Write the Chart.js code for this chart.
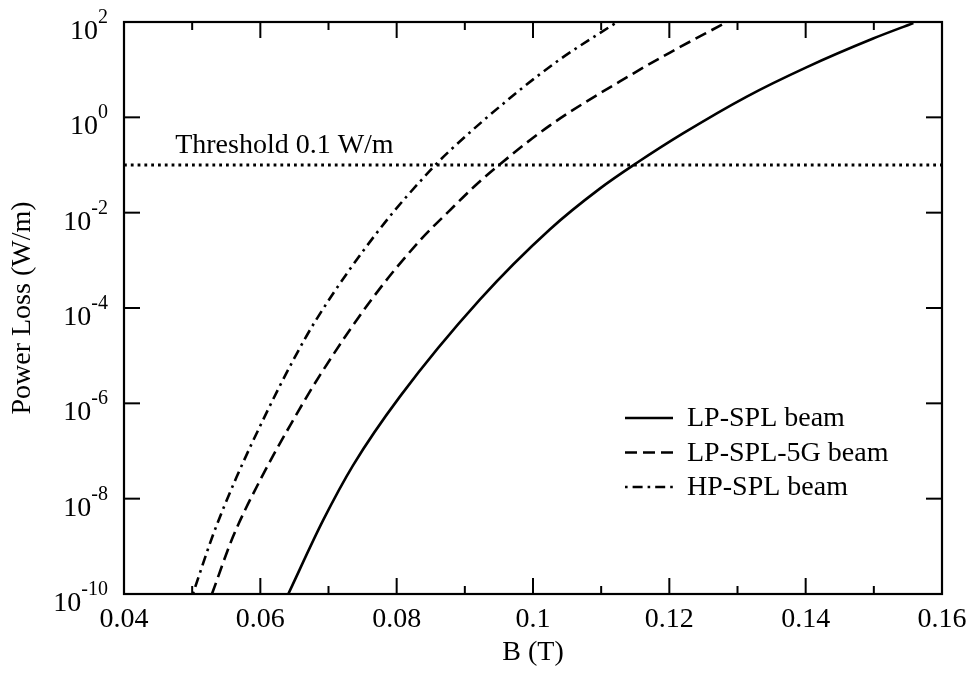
<!DOCTYPE html>
<html>
<head>
<meta charset="utf-8">
<script src="https://cdn.jsdelivr.net/npm/chart.js@4.4.1/dist/chart.umd.min.js"></script>
<style>
  html, body { margin: 0; padding: 0; background: #fff; }
</style>
</head>
<body>
<canvas id="lossChart" width="971" height="675"></canvas>
<script>
// B field (T) and power loss (W/m) for each beam
const bLpSpl = [0.0641, 0.0692, 0.0736, 0.0805, 0.0922, 0.1025, 0.1098, 0.1152, 0.1220, 0.1313, 0.1401, 0.1499, 0.1558];
const lossLpSpl = [1e-10, 3.5e-9, 5.0e-8, 1.4e-6, 1.5e-4, 4.5e-3, 3.2e-2, 0.11, 0.46, 2.7, 11.2, 45, 95];

const bLp5g = [0.0529, 0.0560, 0.0600, 0.0644, 0.0688, 0.0763, 0.0834, 0.0878, 0.0917, 0.0952, 0.1025, 0.1147, 0.1201, 0.1279];
const lossLp5g = [1e-10, 1.6e-9, 2.5e-8, 3.5e-7, 4.0e-6, 1.5e-4, 2.6e-3, 1.12e-2, 3.9e-2, 0.105, 0.68, 8.3, 22.9, 91];

const bHpSpl = [0.0501, 0.0531, 0.0565, 0.0609, 0.0648, 0.0683, 0.0776, 0.0854, 0.0878, 0.0976, 0.1040, 0.1120];
const lossHpSpl = [1e-10, 1.8e-9, 2.8e-8, 6.3e-7, 7.9e-6, 6.0e-5, 4.7e-3, 9.1e-2, 0.20, 3.3, 16.6, 93];

const seriesLabels = ['LP-SPL beam', 'LP-SPL-5G beam', 'HP-SPL beam'];

// threshold line
const thresholdLoss = 0.1;
const thresholdRange = [0.04, 0.16];
const thresholdText = 'Threshold 0.1 W/m';
const thresholdTextB = 0.0475;

// axis ticks
const xMajorTicks = [0.04, 0.06, 0.08, 0.10, 0.12, 0.14, 0.16];
const xMinorTicks = [0.05, 0.07, 0.09, 0.11, 0.13, 0.15];
const yTickExps = [2, 0, -2, -4, -6, -8, -10];

const serif = "'Liberation Serif', 'Times New Roman', serif";

const toPoints = (xs, ys) => xs.map((x, i) => ({ x: x, y: ys[i] }));

const curveStyle = {
  borderColor: '#000',
  borderWidth: 2.6,
  pointRadius: 0,
  fill: false,
  cubicInterpolationMode: 'monotone'
};

// frame, inward ticks, power-of-ten labels, threshold text and legend
const decorations = {
  id: 'decorations',
  afterDraw(chart) {
    const { ctx, chartArea: a, scales: { x, y } } = chart;
    ctx.save();
    ctx.strokeStyle = '#000';
    ctx.fillStyle = '#000';
    ctx.setLineDash([]);

    ctx.lineWidth = 2.2;
    ctx.strokeRect(a.left, a.top, a.right - a.left, a.bottom - a.top);

    const tick = (x0, y0, x1, y1) => {
      ctx.beginPath();
      ctx.moveTo(x0, y0);
      ctx.lineTo(x1, y1);
      ctx.stroke();
    };
    ctx.lineWidth = 2;
    xMajorTicks.forEach(v => {
      const px = x.getPixelForValue(v);
      tick(px, a.bottom, px, a.bottom - 16);
      tick(px, a.top, px, a.top + 16);
    });
    xMinorTicks.forEach(v => {
      const px = x.getPixelForValue(v);
      tick(px, a.bottom, px, a.bottom - 8);
      tick(px, a.top, px, a.top + 8);
    });
    yTickExps.forEach(e => {
      const py = y.getPixelForValue(Math.pow(10, e));
      tick(a.left, py, a.left + 16, py);
      tick(a.right, py, a.right - 16, py);
    });

    // 10^n labels
    ctx.textAlign = 'right';
    ctx.textBaseline = 'alphabetic';
    yTickExps.forEach(e => {
      const py = y.getPixelForValue(Math.pow(10, e));
      const expText = String(e);
      ctx.font = '20px ' + serif;
      ctx.fillText(expText, a.left - 16, py + 1);
      const w = ctx.measureText(expText).width;
      ctx.font = '28px ' + serif;
      ctx.fillText('10', a.left - 16 - w, py + 17);
    });

    // threshold label
    ctx.textAlign = 'left';
    ctx.font = '28px ' + serif;
    ctx.fillText(thresholdText, x.getPixelForValue(thresholdTextB), y.getPixelForValue(thresholdLoss) - 12);

    // legend
    const lx = a.right - 317;
    const ly = a.top + 396;
    chart.data.datasets.slice(0, 3).forEach((ds, i) => {
      const rowY = ly + i * 34.5;
      ctx.lineWidth = ds.borderWidth;
      ctx.setLineDash(ds.borderDash || []);
      ctx.lineDashOffset = ds.borderDashOffset || 0;
      tick(lx, rowY, lx + 48, rowY);
      ctx.setLineDash([]);
      ctx.textBaseline = 'middle';
      ctx.fillText(ds.label, lx + 62, rowY + 1);
    });
    ctx.restore();
  }
};

const ctx = document.getElementById('lossChart').getContext('2d');
new Chart(ctx, {
  type: 'line',
  data: {
    datasets: [
      { ...curveStyle, label: seriesLabels[0], data: toPoints(bLpSpl, lossLpSpl) },
      { ...curveStyle, label: seriesLabels[1], data: toPoints(bLp5g, lossLp5g), borderDash: [12, 6] },
      { ...curveStyle, label: seriesLabels[2], data: toPoints(bHpSpl, lossHpSpl), borderDash: [10, 5, 2.6, 5], borderDashOffset: 15 },
      {
        label: 'Threshold',
        data: thresholdRange.map(b => ({ x: b, y: thresholdLoss })),
        borderColor: '#000',
        borderWidth: 2.8,
        borderDash: [2.8, 4],
        pointRadius: 0,
        fill: false
      }
    ]
  },
  options: {
    responsive: false,
    devicePixelRatio: 1,
    animation: false,
    layout: { padding: { left: 6, right: 29, top: 22, bottom: 0 } },
    plugins: {
      legend: { display: false },
      tooltip: { enabled: false }
    },
    scales: {
      x: {
        type: 'linear',
        min: 0.04,
        max: 0.16,
        grid: { display: false, drawTicks: false },
        border: { display: false },
        ticks: {
          stepSize: 0.02,
          padding: 9,
          color: '#000',
          font: { family: serif, size: 28 },
          maxRotation: 0,
          callback: v => String(Number(v.toFixed(2)))
        },
        title: {
          display: true,
          text: 'B (T)',
          color: '#000',
          font: { family: serif, size: 28 },
          padding: { top: 0, bottom: 6 }
        },
        afterFit: s => {
          s.height = 81;
          s.paddingLeft = 0;
          s.paddingRight = 0;
        }
      },
      y: {
        type: 'logarithmic',
        min: 1e-10,
        max: 1e2,
        grid: { display: false, drawTicks: false },
        border: { display: false },
        ticks: { display: false },
        title: {
          display: true,
          text: 'Power Loss (W/m)',
          color: '#000',
          font: { family: serif, size: 28 },
          padding: { top: 0, bottom: 0 }
        },
        afterFit: s => { s.width = 118; }
      }
    }
  },
  plugins: [decorations]
});
</script>
</body>
</html>
